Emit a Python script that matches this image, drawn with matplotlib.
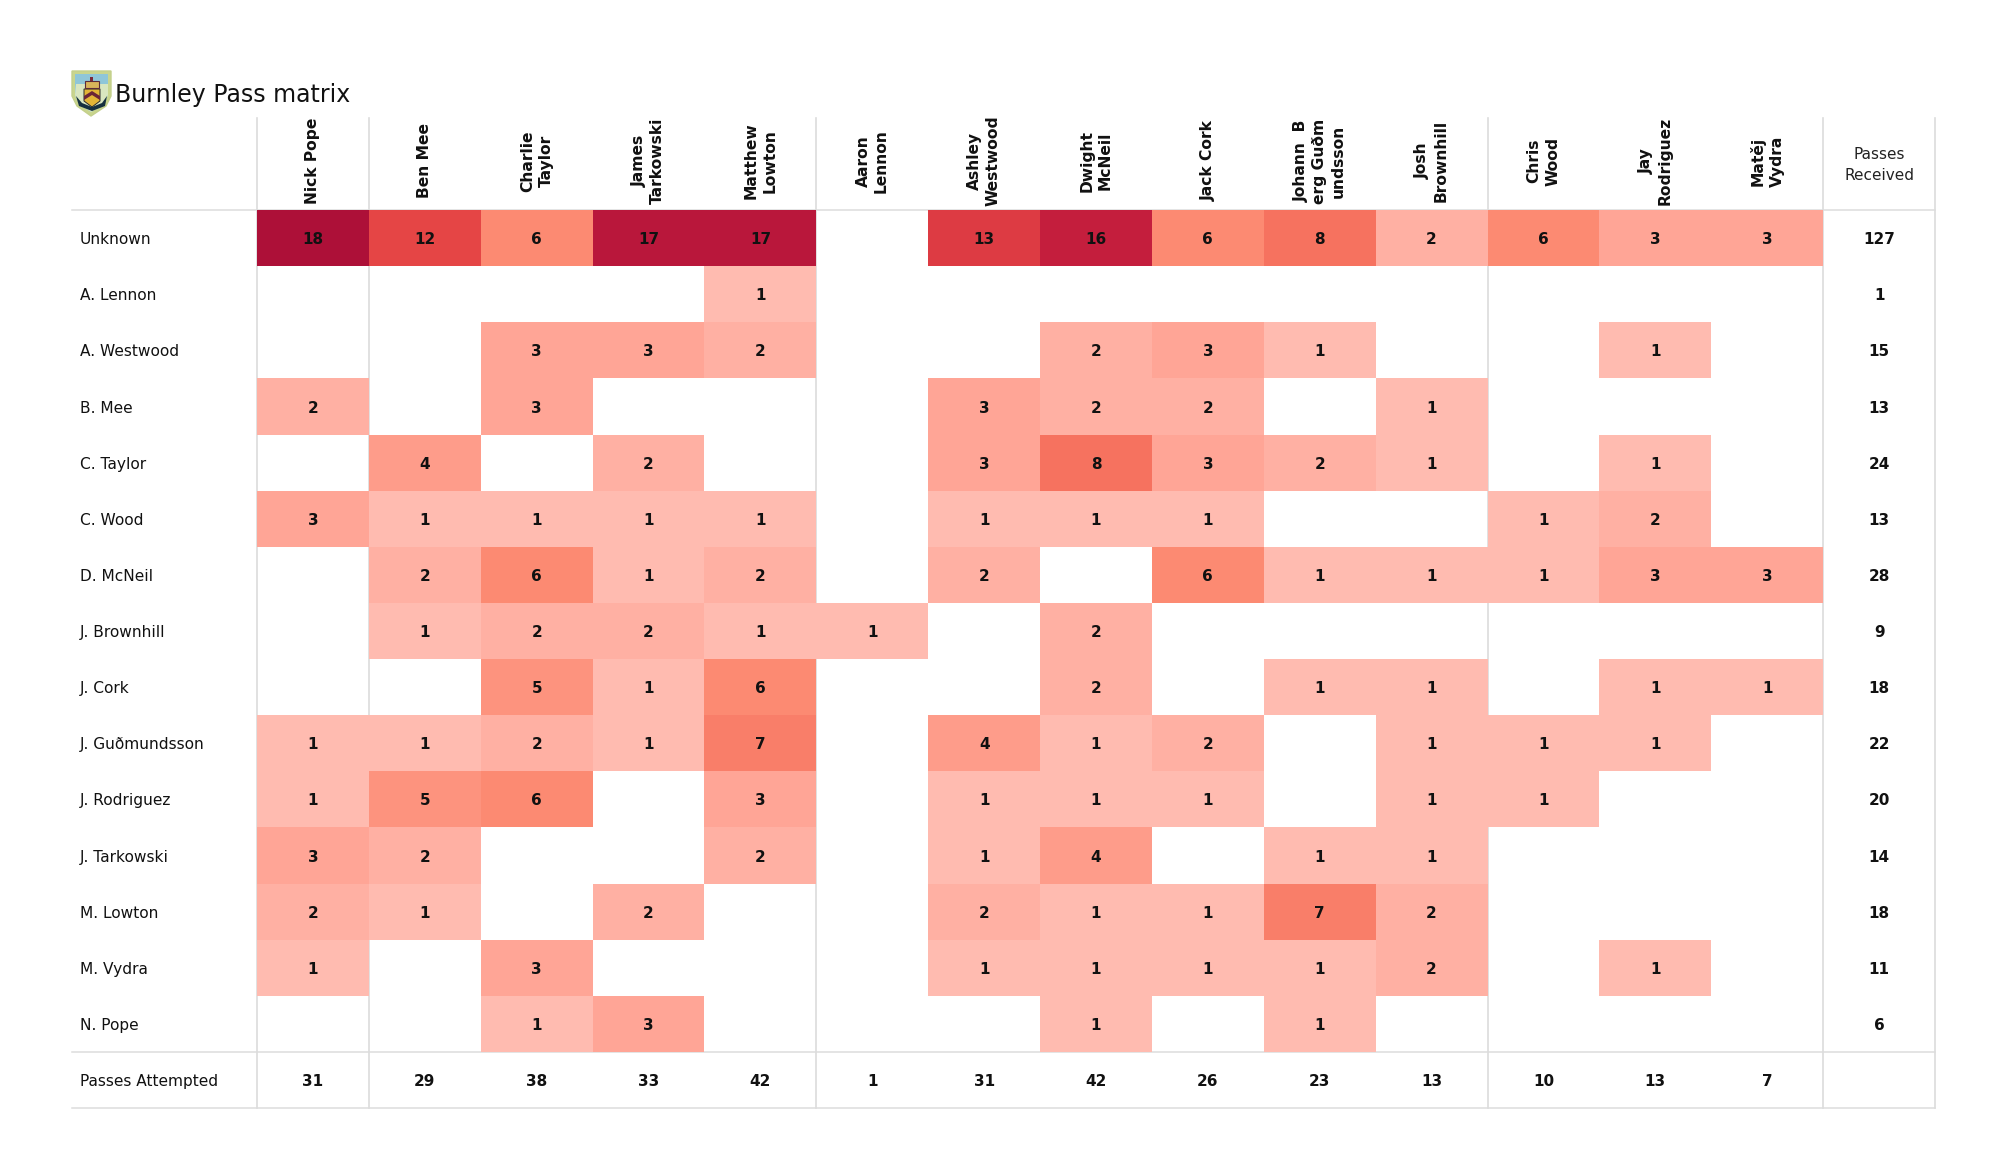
import numpy as np
import matplotlib
matplotlib.use("Agg")
import matplotlib.pyplot as plt
from matplotlib.colors import LinearSegmentedColormap
from matplotlib.patches import Polygon, Rectangle

# Receivers along the top, passers down the side
receivers = ["Nick Pope", "Ben Mee", "Charlie\nTaylor", "James\nTarkowski", "Matthew\nLowton",
             "Aaron\nLennon", "Ashley\nWestwood", "Dwight\nMcNeil", "Jack Cork",
             "Johann  B\nerg Guðm\nundsson", "Josh\nBrownhill", "Chris\nWood", "Jay\nRodriguez",
             "Matěj\nVydra"]
passers = ["Unknown", "A. Lennon", "A. Westwood", "B. Mee", "C. Taylor", "C. Wood", "D. McNeil",
           "J. Brownhill", "J. Cork", "J. Guðmundsson", "J. Rodriguez", "J. Tarkowski",
           "M. Lowton", "M. Vydra", "N. Pope"]

passes = [
    [18, 12, 6, 17, 17, 0, 13, 16, 6, 8, 2, 6, 3, 3],
    [0, 0, 0, 0, 1, 0, 0, 0, 0, 0, 0, 0, 0, 0],
    [0, 0, 3, 3, 2, 0, 0, 2, 3, 1, 0, 0, 1, 0],
    [2, 0, 3, 0, 0, 0, 3, 2, 2, 0, 1, 0, 0, 0],
    [0, 4, 0, 2, 0, 0, 3, 8, 3, 2, 1, 0, 1, 0],
    [3, 1, 1, 1, 1, 0, 1, 1, 1, 0, 0, 1, 2, 0],
    [0, 2, 6, 1, 2, 0, 2, 0, 6, 1, 1, 1, 3, 3],
    [0, 1, 2, 2, 1, 1, 0, 2, 0, 0, 0, 0, 0, 0],
    [0, 0, 5, 1, 6, 0, 0, 2, 0, 1, 1, 0, 1, 1],
    [1, 1, 2, 1, 7, 0, 4, 1, 2, 0, 1, 1, 1, 0],
    [1, 5, 6, 0, 3, 0, 1, 1, 1, 0, 1, 1, 0, 0],
    [3, 2, 0, 0, 2, 0, 1, 4, 0, 1, 1, 0, 0, 0],
    [2, 1, 0, 2, 0, 0, 2, 1, 1, 7, 2, 0, 0, 0],
    [1, 0, 3, 0, 0, 0, 1, 1, 1, 1, 2, 0, 1, 0],
    [0, 0, 1, 3, 0, 0, 0, 1, 0, 1, 0, 0, 0, 0],
]
passes_received = [127, 1, 15, 13, 24, 13, 28, 9, 18, 22, 20, 14, 18, 11, 6]
passes_attempted = [31, 29, 38, 33, 42, 1, 31, 42, 26, 23, 13, 10, 13, 7]

W, H = 2000, 1175
GRID = "#dcdcdc"

plt.rcParams["font.family"] = "DejaVu Sans"

VMIN, VMAX = 1, 18
anchors = [(1, "#ffbbb0"), (3, "#ffa596"), (6, "#fc8a72"), (8, "#f6725f"),
           (12, "#e54545"), (16, "#c41e3d"), (18, "#ad1038")]
cmap = LinearSegmentedColormap.from_list(
    "passes", [((v - VMIN) / (VMAX - VMIN), c) for v, c in anchors]
)

fig = plt.figure(figsize=(W / 100, H / 100), dpi=100)
# axes covers the cells, the totals column and the totals row
ax = fig.add_axes([257 / W, 1 - 1108 / H, (1935 - 257) / W, (1108 - 210) / H])
ax.set_xlim(0, 15)
ax.set_ylim(16, 0)
ax.axis("off")

col_w = (1935 - 257) / 15
row_h = (1108 - 210) / 16

matrix = np.ma.masked_equal(np.array(passes), 0)
ax.pcolormesh(np.arange(15), np.arange(16), matrix, cmap=cmap, vmin=VMIN, vmax=VMAX, zorder=2)

# table rules
header_top = -(210 - 118) / row_h
for x in [0, 1, 5, 11, 14, 15]:
    ax.plot([x, x], [header_top, 16], color=GRID, lw=1.2, zorder=1, clip_on=False)
left_edge = (72 - 257) / col_w
for y in [0, 15, 16]:
    ax.plot([left_edge, 15], [y, y], color=GRID, lw=1.1, zorder=1, clip_on=False)

# cell values
VAL_Y = 0.53
for r, row in enumerate(passes):
    for c, v in enumerate(row):
        if v:
            ax.text(c + 0.5, r + VAL_Y, str(v), ha="center", va="center",
                    fontsize=11, fontweight="bold", color="#111111", zorder=3)

label_x = (80 - 257) / col_w
header_y = (161 - 210) / row_h
for r, name in enumerate(passers):
    ax.text(label_x, r + VAL_Y, name, ha="left", va="center", fontsize=11.1, color="#111111", clip_on=False)
    ax.text(14.5, r + VAL_Y, str(passes_received[r]), ha="center", va="center",
            fontsize=11, fontweight="bold", color="#111111")
ax.text(label_x, 15 + VAL_Y, "Passes Attempted", ha="left", va="center", fontsize=11.1, color="#111111")

for c, name in enumerate(receivers):
    ax.text(c + 0.5, header_y, name, rotation=90, ha="center", va="center", multialignment="center",
            fontsize=11.2, fontweight="bold", linespacing=1.3, color="#111111", clip_on=False)
    ax.text(c + 0.5, 15 + VAL_Y, str(passes_attempted[c]), ha="center", va="center",
            fontsize=11, fontweight="bold", color="#111111")
ax.text(14.5, (165 - 210) / row_h, "Passes\nReceived", ha="center", va="center", fontsize=11,
        linespacing=1.55, color="#222222")

fig.text(115 / W, 1 - 95 / H, "Burnley Pass matrix", ha="left", va="center", fontsize=17, color="#111111")

# rough crest in figure pixels
crest = fig.add_axes([0, 0, 1, 1], facecolor="none")
crest.set_xlim(0, W)
crest.set_ylim(H, 0)
crest.axis("off")
crest.add_patch(Polygon([(72, 71), (111, 71), (111, 96), (106, 106), (91, 116), (77, 106), (72, 96)],
                        fc="#c9d58d", ec="#c4d08c", lw=1))
crest.add_patch(Polygon([(75, 74), (108, 74), (108, 95), (104, 104), (91, 112), (79, 104), (75, 95)],
                        fc="#8fc6d8", ec="none"))
crest.add_patch(Polygon([(76, 84), (108, 84), (108, 95), (104, 104), (91, 112), (79, 104), (75, 95)],
                        fc="#d9e6c0", ec="none"))
# shield, chevron and crown
crest.add_patch(Polygon([(84, 89), (100, 89), (100, 101), (92, 107), (84, 101)], fc="#e3b536", ec="#2a2a2a", lw=0.7))
crest.add_patch(Polygon([(84, 96), (92, 91), (100, 96), (100, 100), (92, 95), (84, 100)], fc="#6b2436", ec="none"))
crest.add_patch(Rectangle((85, 81), 14, 7, fc="#d8b45a", ec="#5a2a3a", lw=0.8))
crest.add_patch(Rectangle((90, 77), 3, 4, fc="#7a2a3a", ec="none"))
# scroll across the foot
crest.add_patch(Polygon([(76, 96), (82, 103), (92, 107), (102, 103), (107, 96), (105, 106), (92, 111), (79, 106)],
                        fc="#16303f", ec="none"))

fig.savefig("out.png", dpi=100)
